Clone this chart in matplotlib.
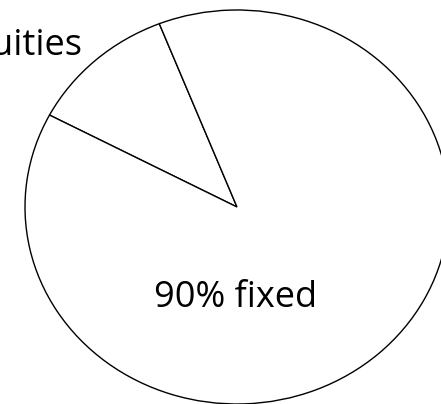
import matplotlib.pyplot as plt

# wedge shares (labels read 10% / 90%)
categories = ["equities", "fixed"]
shares = [11.3, 88.7]
labels = ["10% equities", "90% fixed"]

W, H = 441, 404
fig = plt.figure(figsize=(W / 100, H / 100), dpi=100)
ax = fig.add_axes([0, 0, 1, 1])

ax.pie(
    shares,
    startangle=111.5,
    counterclock=True,
    colors=["white", "white"],
    wedgeprops={"edgecolor": "black", "linewidth": 1.0},
    radius=1.0,
)

# pie is drawn slightly stretched horizontally
cx, cy = 237, 197
rx, ry = 212, 197
ax.set_aspect("auto")
ax.set_xlim(-cx / rx, (W - cx) / rx)
ax.set_ylim(-cy / ry, (H - cy) / ry)
ax.set_axis_off()

font = ["Open Sans", "DejaVu Sans"]
ax.annotate(labels[0], xy=(82, 349), xycoords="figure pixels",
            ha="right", va="baseline", fontsize=26, family=font)
ax.annotate(labels[1], xy=(236, 97), xycoords="figure pixels",
            ha="center", va="baseline", fontsize=26, family=font)

fig.savefig("out.png", dpi=100, facecolor="white")
